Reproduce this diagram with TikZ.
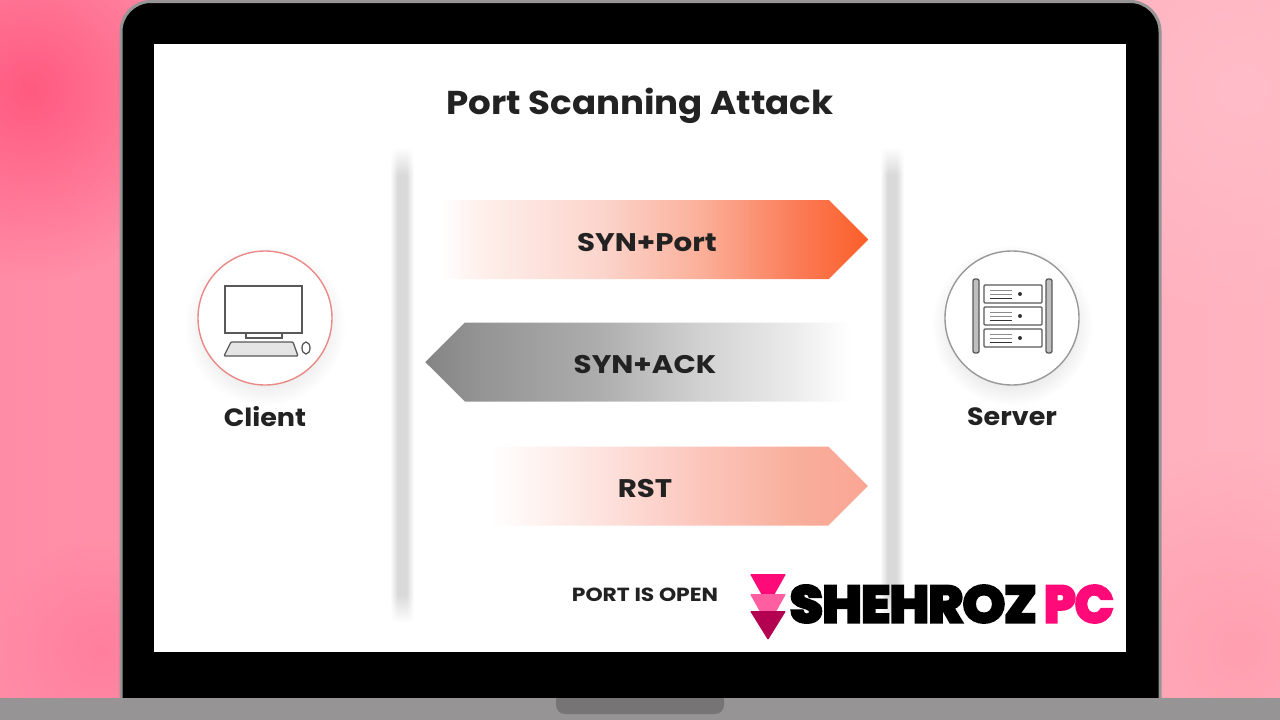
\documentclass[tikz,border=0pt]{standalone}
\usepackage{fontspec}
\usepackage{graphicx}
\setmainfont{Poppins}
\newfontfamily\widefont[FakeStretch=1.08]{Poppins}
\newfontfamily\widerfont[FakeStretch=1.15]{Poppins}
\newfontfamily\logofont[FakeBold=7]{Poppins}
\usetikzlibrary{shapes.symbols,positioning,fadings}
\tikzfading[name=softblob, inner color=transparent!0, outer color=transparent!100]
\pgfdeclareverticalshading{barendsgray}{100bp}{color(0bp)=(pgftransparent!100); color(25bp)=(pgftransparent!100); color(28bp)=(pgftransparent!0); color(72bp)=(pgftransparent!0); color(75bp)=(pgftransparent!100); color(100bp)=(pgftransparent!100)}
\pgfdeclarefading{barends}{\pgfuseshading{barendsgray}}
\definecolor{skinleft}{HTML}{FF8CA6}
\definecolor{skinright}{HTML}{FFB4C0}
\definecolor{rosehot}{HTML}{FF5A80}
\definecolor{rosemid}{HTML}{FF7E9E}
\definecolor{roseback}{HTML}{FF9FB0}
\definecolor{roselite}{HTML}{FFBCC8}
\definecolor{casing}{HTML}{969494}
\definecolor{dock}{HTML}{767474}
\definecolor{ink}{HTML}{222222}
\definecolor{clientring}{HTML}{EA8A88}
\definecolor{markhot}{HTML}{FF0A78}
\definecolor{markmid}{HTML}{FF5FA0}
\definecolor{markdeep}{HTML}{B30050}
\pgfdeclarehorizontalshading{barcore}{100bp}{color(0bp)=(white); color(25bp)=(white); color(41bp)=(black!15); color(59bp)=(black!15); color(75bp)=(white); color(100bp)=(white)}
\pgfdeclarehorizontalshading{synportfill}{100bp}{rgb(0bp)=(1,1,1); rgb(26bp)=(1,1,1); rgb(30.7bp)=(1,.94,.925); rgb(44.4bp)=(.984,.835,.8); rgb(55.8bp)=(.984,.69,.604); rgb(67.2bp)=(.984,.478,.333); rgb(75bp)=(.984,.373,.157); rgb(100bp)=(.984,.373,.157)}
\pgfdeclarehorizontalshading{synackfill}{100bp}{gray(0bp)=(.52); gray(25bp)=(.52); gray(31.3bp)=(.58); gray(45bp)=(.68); gray(56.6bp)=(.82); gray(67bp)=(.92); gray(73.9bp)=(1); gray(100bp)=(1)}
\pgfdeclarehorizontalshading{rstfill}{100bp}{rgb(0bp)=(1,1,1); rgb(27.5bp)=(1,1,1); rgb(41.3bp)=(.992,.89,.87); rgb(53.9bp)=(.988,.776,.737); rgb(66.5bp)=(.973,.682,.604); rgb(75bp)=(.984,.647,.584); rgb(100bp)=(.984,.647,.584)}
\begin{document}
\begin{tikzpicture}[
  x=1pt, y=-1pt,
  blob/.style={path fading=softblob},
  banner/.style={signal, signal to=east, minimum height=79pt, inner sep=0pt},
  caption/.style={font=\widerfont\fontsize{25.5}{26}\selectfont\bfseries, text=ink},
  sidelabel/.style={font=\widefont\fontsize{25}{25}\selectfont\bfseries, text=ink},
  badge/.style={circle, minimum size=134pt, inner sep=0pt, fill=white, line width=1.4pt},
  icon/.style={draw=black!65, line width=1.3pt},
  vbar/.style={shading=barcore, path fading=barends}
]
  \useasboundingbox (0,0) rectangle (1280,720);
  \shade[left color=skinleft, right color=skinright] (0,0) rectangle (1280,720);
  \fill[rosehot, blob] (30,90) circle (190);
  \fill[rosemid, blob] (100,650) circle (110);
  \fill[roselite, blob] (1240,90) circle (240);
  \fill[roseback, blob] (1240,650) circle (200);

  \fill[black, draw=casing, line width=3pt, rounded corners=30pt] (121,730) -- (121,1.5) -- (1160,1.5) -- (1160,730) -- cycle;
  \fill[casing] (0,698) rectangle (1280,720);
  \fill[dock, rounded corners=9pt] (556,690) rectangle (724,714);
  \fill[black] (540,680) rectangle (740,698);
  \fill[white] (154,44) rectangle (1126,652);

  \node[font=\widefont\fontsize{33}{33}\selectfont\bfseries, text=ink] (title) at (640,106) {Port Scanning Attack};

  \path[vbar] (390,148) rectangle (414,622);
  \path[vbar] (880,148) rectangle (904,622);

  \node[banner, minimum width=438pt, shading=synportfill] (synport) at (629.5,239.5) {};
  \node[banner, minimum width=435pt, signal to=west, shading=synackfill] (synack) at (662.5,362) {};
  \node[banner, minimum width=398pt, shading=rstfill] (rst) at (649,486) {};
  \node[caption] (synporttext) at (647,243) {SYN+Port};
  \node[caption] (synacktext) at (645,365) {SYN+ACK};
  \node[caption] (rsttext) at (645,489) {RST};
  \node[font=\widerfont\fontsize{19}{19}\selectfont\bfseries, text=ink] (portopen) at (645,595) {PORT IS OPEN};

  % left hand badge with the desktop
  \fill[black!25, blob] (265,325) circle (80);
  \node[badge, draw=clientring] (client) at (265,318) {};
  \node[sidelabel] (clientlabel) at (265,417) {Client};
  \draw[icon] (225,286) rectangle (302,333);
  \draw[icon] (246,333) -- (246,338) -- (282,338) -- (282,333);
  \draw[icon, fill=black!10, rounded corners=1pt] (231,342) -- (293,342) -- (298,356) -- (224,356) -- cycle;
  \draw[icon] (306,348) ellipse (4 and 6);

  % right hand badge with the rack
  \fill[black!30, blob] (1012,325) circle (80);
  \node[badge, draw=black!40] (server) at (1012,318) {};
  \node[sidelabel] (serverlabel) at (1012,417) {Server};
  \foreach \x in {973,1046}
    \draw[icon, fill=black!25, rounded corners=2pt] (\x,279) rectangle ++(6,74);
  \foreach \y in {285,307,329} {
    \draw[icon, rounded corners=1pt] (984,\y) rectangle ++(58,18);
    \draw[black!45, line width=1pt] (990,\y+5) -- ++(22,0) (990,\y+9) -- ++(22,0);
    \draw[black!80, line width=1pt] (990,\y+13) -- ++(22,0);
    \fill[black!80] (1020,\y+9) circle (2);
  }

  % site mark in the corner
  \fill[markhot, rounded corners=1pt] (750,574) -- (786,574) -- (768,606) -- cycle;
  \fill[markmid, rounded corners=1pt] (750,594) -- (786,594) -- (768,626) -- cycle;
  \fill[markdeep, rounded corners=1pt] (750,611) -- (786,611) -- (768,640) -- cycle;
  \node[inner sep=0pt, anchor=west] (markname) at (790,604) {\resizebox{246pt}{36pt}{\logofont\bfseries SHEHROZ}};
  \node[inner sep=0pt, anchor=west, text=markhot] (markpc) at (1044,604) {\resizebox{69pt}{36pt}{\logofont\bfseries PC}};
\end{tikzpicture}
\end{document}
